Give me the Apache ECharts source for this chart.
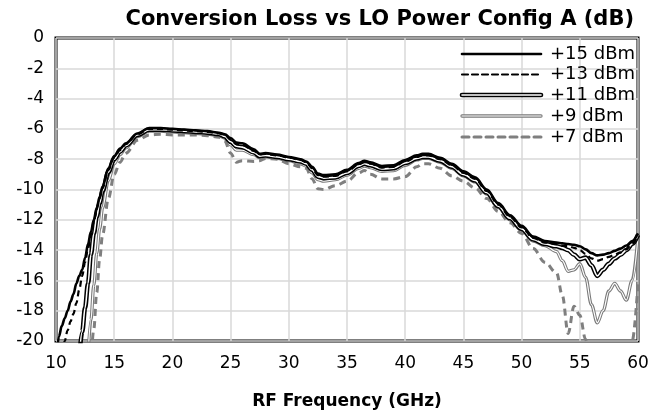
<!DOCTYPE html>
<html>
<head>
<meta charset="utf-8">
<script src="https://cdn.jsdelivr.net/npm/echarts@6/dist/echarts.min.js"></script>
<style>
  html, body { margin: 0; padding: 0; background: #fff; }
  #chart { width: 667px; height: 417px; }
</style>
</head>
<body>
<div id="chart"></div>
<script>
// RF frequency (GHz)
var freq = [10, 10.25, 10.5, 10.75, 11, 11.25, 11.5, 11.75, 12, 12.25, 12.5, 12.75, 13, 13.25, 13.5, 13.75, 14, 14.5, 15, 15.5,
  16, 17, 18, 19, 20, 21, 22, 23, 24, 24.5, 25, 25.5, 26, 27, 27.5, 28, 29, 30, 31, 31.5,
  32, 32.5, 33, 34, 35, 36, 36.5, 37, 38, 39, 40, 41, 41.5, 42, 43, 44, 45, 46, 47, 48,
  49, 50, 51, 52, 53, 53.5, 54, 54.5, 55, 55.5, 56, 56.5, 57, 57.5, 58, 58.5, 59, 59.5, 60];

// conversion loss (dB) per LO power
var lo15 = [-21.5, -19.7, -19.0, -18.5, -18.0, -17.4, -16.9, -16.2, -15.7, -15.3, -14.5, -13.6, -12.8, -12.0, -11.2, -10.5, -9.8, -8.6, -7.8, -7.3,
  -6.95, -6.3, -5.95, -5.95, -6.0, -6.05, -6.1, -6.15, -6.25, -6.35, -6.6, -6.9, -6.95, -7.35, -7.65, -7.6, -7.7, -7.85, -8.0, -8.15,
  -8.5, -8.95, -9.05, -9.0, -8.7, -8.25, -8.1, -8.2, -8.45, -8.4, -8.05, -7.75, -7.65, -7.65, -7.9, -8.3, -8.8, -9.2, -10.0, -10.9,
  -11.7, -12.4, -13.1, -13.4, -13.5, -13.55, -13.6, -13.65, -13.75, -13.95, -14.2, -14.35, -14.3, -14.2, -14.05, -13.9, -13.7, -13.4, -12.9];

var lo13 = [null, null, -21.5, -20.0, -19.3, -18.7, -18.2, -17.5, -16.6, -15.7, -14.8, -13.9, -13.0, -12.1, -11.3, -10.6, -9.9, -8.7, -7.9, -7.4,
  -7.0, -6.35, -6.0, -6.0, -6.05, -6.1, -6.15, -6.2, -6.3, -6.4, -6.7, -7.0, -7.05, -7.45, -7.7, -7.65, -7.75, -7.9, -8.05, -8.2,
  -8.6, -9.05, -9.15, -9.1, -8.8, -8.35, -8.2, -8.3, -8.55, -8.5, -8.15, -7.85, -7.75, -7.75, -8.0, -8.4, -8.9, -9.3, -10.1, -11.0,
  -11.8, -12.5, -13.2, -13.5, -13.6, -13.7, -13.75, -13.85, -14.0, -14.25, -14.55, -14.7, -14.6, -14.45, -14.3, -14.15, -13.95, -13.6, -13.0];

var lo11 = [null, null, null, null, null, null, null, null, -21.0, -19.4, -17.8, -16.2, -14.3, -12.9, -11.8, -10.9, -10.1, -8.85, -8.0, -7.5,
  -7.1, -6.4, -6.05, -6.05, -6.1, -6.15, -6.2, -6.25, -6.35, -6.5, -6.85, -7.15, -7.2, -7.55, -7.8, -7.75, -7.85, -8.0, -8.15, -8.3,
  -8.7, -9.15, -9.25, -9.2, -8.9, -8.45, -8.3, -8.4, -8.65, -8.6, -8.25, -7.95, -7.85, -7.85, -8.1, -8.5, -9.0, -9.4, -10.2, -11.1,
  -11.9, -12.6, -13.3, -13.6, -13.75, -13.85, -14.0, -14.3, -14.6, -14.5, -15.0, -15.7, -15.3, -14.9, -14.55, -14.3, -14.0, -13.6, -13.0];

var lo9 = [null, null, null, null, null, null, null, null, null, null, null, -21.0, -18.6, -16.3, -14.2, -12.6, -11.2, -9.4, -8.3, -7.7,
  -7.25, -6.5, -6.15, -6.15, -6.2, -6.25, -6.3, -6.35, -6.45, -6.6, -7.05, -7.4, -7.4, -7.7, -7.9, -7.85, -7.95, -8.1, -8.3, -8.45,
  -8.9, -9.35, -9.45, -9.35, -9.05, -8.6, -8.45, -8.55, -8.8, -8.75, -8.4, -8.05, -7.95, -7.95, -8.2, -8.6, -9.1, -9.5, -10.3, -11.2,
  -12.0, -12.7, -13.4, -13.7, -14.1, -14.7, -15.4, -15.3, -14.9, -15.8, -17.6, -18.8, -18.0, -16.7, -16.2, -16.7, -17.3, -16.0, -13.1];

var lo7 = [null, null, null, null, null, null, null, null, null, null, null, null, -21.5, -19.2, -16.8, -14.6, -13.0, -10.6, -9.0, -8.2,
  -7.6, -6.75, -6.4, -6.35, -6.4, -6.4, -6.4, -6.45, -6.55, -6.8, -7.6, -8.2, -8.1, -8.15, -8.1, -7.95, -8.0, -8.3, -8.5, -8.6,
  -9.3, -9.95, -10.0, -9.75, -9.45, -8.9, -8.75, -9.0, -9.3, -9.3, -9.15, -8.5, -8.3, -8.3, -8.6, -9.1, -9.45, -9.9, -10.6, -11.45,
  -12.2, -12.9, -13.9, -14.8, -15.5, -17.0, -19.5, -17.7, -18.3, -19.9, -23.0, null, null, null, null, null, -23.0, -20.0, -16.2];

var seriesNames = ['+15 dBm', '+13 dBm', '+11 dBm', '+9 dBm', '+7 dBm'];
var xTicks = [10, 15, 20, 25, 30, 35, 40, 45, 50, 55, 60];
var yTicks = [0, -2, -4, -6, -8, -10, -12, -14, -16, -18, -20];

function pairs(vals) {
  return freq.map(function (f, i) { return [f, vals[i]]; });
}

// one look per legend entry; a double line is a wide line with a thin white one on top
var looks = [
  { data: lo15, color: '#000', width: 2.6, type: 'solid' },
  { data: lo13, color: '#000', width: 2.2, type: [6, 4] },
  { data: lo11, color: '#000', width: 4.6, type: 'solid', inner: 1.6 },
  { data: lo9, color: '#7a7a7a', width: 3.3, type: 'solid', inner: 1.2 },
  { data: lo7, color: '#7f7f7f', width: 3, type: [7, 5] }
];

function lineSeries(name, data, color, width, type, z) {
  return {
    name: name,
    type: 'line',
    data: pairs(data),
    showSymbol: false,
    symbol: 'none',
    smooth: 0.35,
    smoothMonotone: 'x',
    silent: true,
    z: z,
    lineStyle: { color: color, width: width, type: type, cap: 'butt' }
  };
}

var series = [];
var legendGraphics = [];
var legendX0 = 462, legendX1 = 541, legendTextX = 550;
var legendY = [54, 74.5, 95, 116, 137];

// draw the lowest power first so the black curves sit on top
for (var k = looks.length - 1; k >= 0; k--) {
  var lk = looks[k];
  series.push(lineSeries(seriesNames[k], lk.data, lk.color, lk.width, lk.type, 10 + (4 - k) * 2));
  if (lk.inner) {
    series.push(lineSeries(seriesNames[k] + ' inner', lk.data, '#fff', lk.inner, 'solid', 11 + (4 - k) * 2));
  }
}

looks.forEach(function (lk, k) {
  var y = legendY[k];
  legendGraphics.push({
    type: 'line', z: 100,
    shape: { x1: legendX0, y1: y, x2: legendX1, y2: y },
    style: { stroke: lk.color, lineWidth: lk.width, lineDash: lk.type === 'solid' ? null : lk.type, lineCap: 'round' }
  });
  if (lk.inner) {
    legendGraphics.push({
      type: 'line', z: 101,
      shape: { x1: legendX0, y1: y, x2: legendX1, y2: y },
      style: { stroke: '#fff', lineWidth: lk.inner, lineCap: 'round' }
    });
  }
  legendGraphics.push({
    type: 'text', z: 101,
    x: legendTextX, y: y,
    style: {
      text: seriesNames[k],
      fill: '#000',
      font: '18px "DejaVu Sans"',
      textVerticalAlign: 'middle'
    }
  });
});

var option = {
  animation: false,
  backgroundColor: '#fff',
  textStyle: { fontFamily: 'DejaVu Sans' },
  title: {
    text: 'Conversion Loss vs LO Power Config A (dB)',
    right: 28,
    top: 4,
    textStyle: { fontFamily: 'DejaVu Sans', fontWeight: 'bold', fontSize: 21, color: '#000' }
  },
  grid: {
    left: 56, right: 29, top: 38, bottom: 76,
    show: true,
    borderColor: '#000',
    borderWidth: 3,
    backgroundColor: 'transparent'
  },
  xAxis: {
    type: 'value',
    min: xTicks[0],
    max: xTicks[xTicks.length - 1],
    interval: 5,
    name: 'RF Frequency (GHz)',
    nameLocation: 'middle',
    nameGap: 52,
    nameTextStyle: { fontFamily: 'DejaVu Sans', fontWeight: 'bold', fontSize: 17, color: '#000' },
    axisLine: { show: false },
    axisTick: { show: false },
    axisLabel: { fontSize: 17, color: '#000', margin: 14 },
    splitLine: { show: true, lineStyle: { color: '#d9d9d9', width: 1.5 } }
  },
  yAxis: {
    type: 'value',
    min: yTicks[yTicks.length - 1],
    max: yTicks[0],
    interval: 2,
    axisLine: { show: false },
    axisTick: { show: false },
    axisLabel: { fontSize: 17, color: '#000', margin: 12 },
    splitLine: { show: true, lineStyle: { color: '#d9d9d9', width: 1.5 } }
  },
  graphic: legendGraphics,
  series: series
};

var chart = echarts.init(document.getElementById('chart'), null, { renderer: 'canvas' });
chart.setOption(option);
window.addEventListener('resize', chart.resize);
</script>
</body>
</html>
